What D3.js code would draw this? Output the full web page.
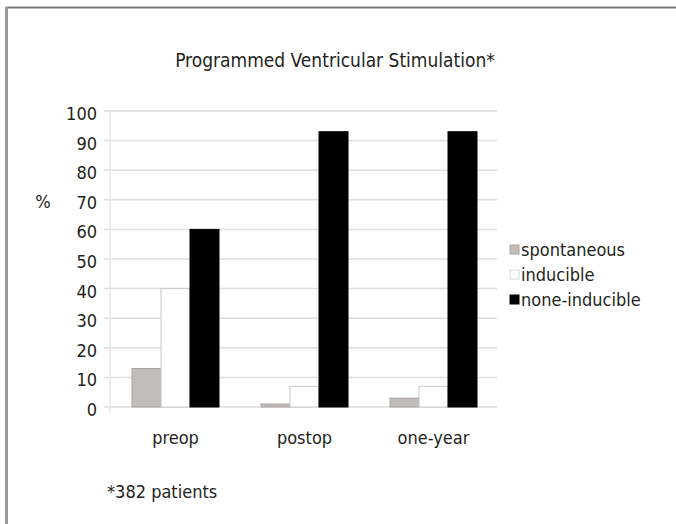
<!DOCTYPE html>
<html>
<head>
<meta charset="utf-8">
<script src="https://cdn.jsdelivr.net/npm/d3@7"></script>
<style>
  body { margin: 0; background: #fff; overflow: hidden; }
  svg { display: block; }
  text { font-family: "Liberation Sans Narrow", "DejaVu Sans Condensed", sans-serif; fill: #231f20; }
</style>
</head>
<body>
<div id="vis"></div>
<script>
// data
var categories = ["preop", "postop", "one-year"];
var series = ["spontaneous", "inducible", "none-inducible"];
var spontaneous = [13, 1, 3];
var inducible = [40, 7, 7];
var noneInducible = [60, 93, 93];
var yTicks = [0, 10, 20, 30, 40, 50, 60, 70, 80, 90, 100];

var fills = {"spontaneous": "#c2bdbb", "inducible": "#ffffff", "none-inducible": "#000000"};
var strokes = {"spontaneous": "#a9a4a2", "inducible": "#c8c8c8", "none-inducible": "#000000"};

var W = 676, H = 524;
var margin = {top: 111, left: 110, right: 179, bottom: 117};
var width = W - margin.left - margin.right,
    height = H - margin.top - margin.bottom;

var svg = d3.select("#vis").append("svg")
    .attr("width", W)
    .attr("height", H);

// frame (only top and left edges show)
svg.append("line").attr("x1", 6).attr("x2", W).attr("y1", 7.5).attr("y2", 7.5)
   .attr("stroke", "#7a7a7a").attr("stroke-width", 2);
svg.append("line").attr("x1", 6.5).attr("x2", 6.5).attr("y1", 7).attr("y2", H)
   .attr("stroke", "#9a9a9a").attr("stroke-width", 3);

var plot = svg.append("g")
    .attr("transform", "translate(" + margin.left + "," + margin.top + ")");

var x0 = d3.scaleBand().domain(categories).range([0, width]).paddingInner(0).paddingOuter(0);
var x1 = d3.scaleBand().domain(series).range([22, x0.bandwidth() - 20]).padding(0);
var y = d3.scaleLinear().domain([0, 100]).range([height, 0]);

// gridlines
plot.selectAll(".grid")
    .data(yTicks)
    .enter().append("line")
    .attr("class", "grid")
    .attr("x1", -6).attr("x2", width)
    .attr("y1", function(d) { return y(d); })
    .attr("y2", function(d) { return y(d); })
    .attr("stroke", "#dedede")
    .attr("stroke-width", 1.5);

plot.append("line")
    .attr("x1", 0).attr("x2", 0).attr("y1", y(100)).attr("y2", y(0) + 6)
    .attr("stroke", "#e6e6e6").attr("stroke-width", 1.5);

// y labels
plot.selectAll(".ylab")
    .data(yTicks)
    .enter().append("text")
    .attr("class", "ylab")
    .attr("x", -13)
    .attr("y", function(d) { return y(d); })
    .attr("dy", "0.5em")
    .attr("text-anchor", "end")
    .style("font-size", "18px")
    .text(function(d) { return d; });

var table = categories.map(function(c, i) {
  return {cat: c, vals: [
    {key: "spontaneous", v: spontaneous[i]},
    {key: "inducible", v: inducible[i]},
    {key: "none-inducible", v: noneInducible[i]}
  ]};
});

var group = plot.selectAll(".group")
    .data(table)
    .enter().append("g")
    .attr("class", "group")
    .attr("transform", function(d) { return "translate(" + x0(d.cat) + ",0)"; });

group.selectAll("rect")
    .data(function(d) { return d.vals; })
    .enter().append("rect")
    .attr("x", function(d) { return x1(d.key); })
    .attr("width", x1.bandwidth())
    .attr("y", function(d) { return y(d.v); })
    .attr("height", function(d) { return y(0) - y(d.v); })
    .attr("fill", function(d) { return fills[d.key]; })
    .attr("stroke", function(d) { return strokes[d.key]; })
    .attr("stroke-width", 1);

// category labels
plot.selectAll(".xlab")
    .data(categories)
    .enter().append("text")
    .attr("class", "xlab")
    .attr("x", function(d) { return x0(d) + x0.bandwidth() / 2 + 1; })
    .attr("y", height + 37)
    .attr("text-anchor", "middle")
    .style("font-size", "18px")
    .text(function(d) { return d; });

// legend
var legend = svg.selectAll(".legend")
    .data(series)
    .enter().append("g")
    .attr("class", "legend")
    .attr("transform", function(d, i) { return "translate(510," + (245 + i * 25) + ")"; });

legend.append("rect")
    .attr("width", 9).attr("height", 9)
    .attr("fill", function(d) { return fills[d]; })
    .attr("stroke", function(d) { return d == "inducible" ? "#d6d6d6" : strokes[d]; });

legend.append("text")
    .attr("x", 11)
    .attr("y", 11)
    .style("font-size", "18px")
    .text(function(d) { return d; });

// titles
svg.append("text")
    .attr("x", 335).attr("y", 67)
    .attr("text-anchor", "middle")
    .style("font-size", "19px")
    .text("Programmed Ventricular Stimulation*");

svg.append("text")
    .attr("x", 43).attr("y", 208)
    .attr("text-anchor", "middle")
    .style("font-size", "18px")
    .text("%");

svg.append("text")
    .attr("x", 107).attr("y", 498)
    .style("font-size", "18px")
    .text("*382 patients");
</script>
</body>
</html>
